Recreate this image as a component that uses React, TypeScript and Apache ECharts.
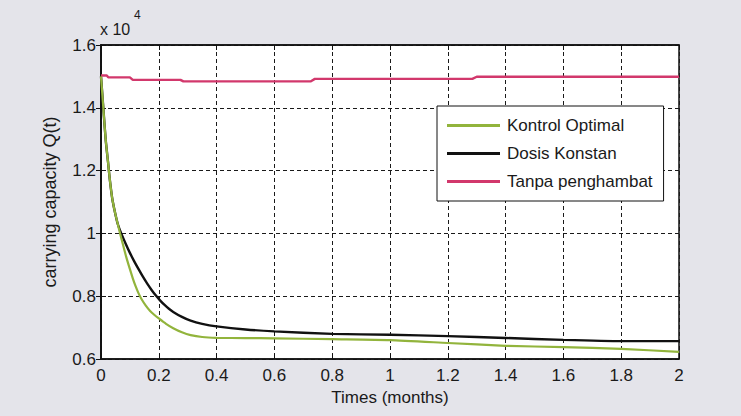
import React, { useEffect, useRef } from "react";
import * as echarts from "echarts";

const xTicks = [0, 0.2, 0.4, 0.6, 0.8, 1, 1.2, 1.4, 1.6, 1.8, 2];
const yTicks = [6000, 8000, 10000, 12000, 14000, 16000];

const kontrolTimes = [0, 0.008, 0.016, 0.024, 0.03, 0.036, 0.04, 0.05, 0.058, 0.066, 0.075, 0.087, 0.1, 0.11, 0.12, 0.13, 0.14, 0.155, 0.17, 0.185, 0.2, 0.225, 0.25, 0.28, 0.31, 0.35, 0.4, 0.5, 0.6, 0.8, 1.0, 1.2, 1.4, 1.6, 1.8, 2.0];
const kontrolValues = [15000, 14000, 13000, 12300, 11750, 11300, 11050, 10600, 10300, 10000, 9680, 9260, 8860, 8570, 8310, 8090, 7910, 7700, 7530, 7400, 7290, 7120, 6980, 6850, 6760, 6700, 6675, 6665, 6660, 6630, 6600, 6510, 6420, 6380, 6320, 6230];

const dosisTimes = [0, 0.008, 0.016, 0.024, 0.03, 0.036, 0.04, 0.05, 0.058, 0.07, 0.085, 0.1, 0.115, 0.13, 0.145, 0.16, 0.175, 0.19, 0.205, 0.22, 0.235, 0.25, 0.28, 0.31, 0.35, 0.4, 0.5, 0.6, 0.8, 1.0, 1.2, 1.4, 1.6, 1.8, 2.0];
const dosisValues = [15000, 14000, 13000, 12300, 11750, 11300, 11050, 10600, 10300, 10000, 9680, 9380, 9110, 8860, 8620, 8400, 8200, 8020, 7860, 7720, 7600, 7500, 7340, 7220, 7120, 7040, 6940, 6880, 6800, 6770, 6730, 6670, 6610, 6570, 6570];

const tanpaTimes = [0, 0.02, 0.025, 0.1, 0.11, 0.275, 0.285, 0.725, 0.74, 1.285, 1.3, 2];
const tanpaValues = [15030, 15030, 14970, 14970, 14890, 14890, 14840, 14840, 14920, 14920, 14990, 14990];

const seriesNames = ["Kontrol Optimal", "Dosis Konstan", "Tanpa penghambat"];
const seriesColors = ["#92b43c", "#111111", "#d2386c"];

const FONT = "'Liberation Sans', Arial, sans-serif";

function pairs(xs: number[], ys: number[]) {
  return xs.map((x, i) => [x, ys[i]]);
}

export default function App() {
  const ref = useRef<HTMLDivElement>(null);
  useEffect(() => {
    if (!ref.current) return;
    const chart = echarts.init(ref.current, undefined, { renderer: "svg" });
    const dashed = { show: true, lineStyle: { color: "#1a1a1a", type: [4, 3] as any, width: 1 } };
    const fmtY = (v: number) => String(Math.round(v / 1000) / 10);
    chart.setOption({
      animation: false,
      backgroundColor: "#e4e4ea",
      textStyle: { fontFamily: FONT },
      grid: {
        left: 101,
        top: 45,
        right: 62,
        bottom: 57,
        show: true,
        backgroundColor: "#ffffff",
        borderColor: "#111",
        borderWidth: 1.5,
      },
      legend: {
        orient: "vertical",
        left: 437,
        top: 106,
        padding: [11, 11, 11, 10],
        itemGap: 11,
        itemWidth: 53,
        itemHeight: 3,
        icon: "rect",
        backgroundColor: "#ffffff",
        borderColor: "#111",
        borderWidth: 1,
        textStyle: { fontSize: 17, color: "#1a1a1a", fontFamily: FONT, padding: [0, 0, 0, 2] },
        data: seriesNames,
      },
      xAxis: [
        {
          type: "value",
          min: 0,
          max: 2,
          interval: 0.2,
          name: "Times (months)",
          nameLocation: "middle",
          nameGap: 30,
          nameTextStyle: { fontSize: 17, color: "#1a1a1a", fontFamily: FONT },
          axisLine: { show: true, lineStyle: { color: "#111", width: 1.5 } },
          axisTick: { show: true, inside: true, length: 5, lineStyle: { color: "#111" } },
          axisLabel: {
            fontSize: 17,
            color: "#1a1a1a",
            margin: 8,
            fontFamily: FONT,
            formatter: (v: number) => String(Math.round(v * 10) / 10),
          },
          splitLine: dashed,
        },
        {
          type: "value",
          position: "top",
          min: 0,
          max: 2,
          interval: 0.2,
          axisLine: { show: true, lineStyle: { color: "#111", width: 1.5 } },
          axisTick: { show: true, inside: true, length: 5, lineStyle: { color: "#111" } },
          axisLabel: { show: false },
          splitLine: { show: false },
        },
      ],
      yAxis: [
        {
          type: "value",
          min: 6000,
          max: 16000,
          interval: 2000,
          name: "carrying capacity Q(t)",
          nameLocation: "middle",
          nameGap: 42,
          nameRotate: 90,
          nameTextStyle: { fontSize: 18, color: "#1a1a1a", fontFamily: FONT },
          axisLine: { show: true, lineStyle: { color: "#111", width: 1.5 } },
          axisTick: { show: true, inside: true, length: 5, lineStyle: { color: "#111" } },
          axisLabel: { fontSize: 17, color: "#1a1a1a", margin: 5, fontFamily: FONT, formatter: fmtY },
          splitLine: dashed,
        },
        {
          type: "value",
          position: "right",
          min: 6000,
          max: 16000,
          interval: 2000,
          axisLine: { show: true, lineStyle: { color: "#111", width: 1.5 } },
          axisTick: { show: true, inside: true, length: 5, lineStyle: { color: "#111" } },
          axisLabel: { show: false },
          splitLine: { show: false },
        },
      ],
      graphic: [
        { type: "text", left: 100, top: 21, style: { text: "x 10", fontSize: 16, fill: "#1a1a1a", fontFamily: FONT } },
        { type: "text", left: 134, top: 9, style: { text: "4", fontSize: 12, fill: "#1a1a1a", fontFamily: FONT } },
      ],
      series: [
        {
          name: seriesNames[0],
          type: "line",
          symbol: "none",
          smooth: 0.2,
          data: pairs(kontrolTimes, kontrolValues),
          lineStyle: { color: seriesColors[0], width: 2.2 },
          itemStyle: { color: seriesColors[0] },
          z: 4,
        },
        {
          name: seriesNames[1],
          type: "line",
          symbol: "none",
          smooth: 0.2,
          data: pairs(dosisTimes, dosisValues),
          lineStyle: { color: seriesColors[1], width: 2.4 },
          itemStyle: { color: seriesColors[1] },
          z: 3,
        },
        {
          name: seriesNames[2],
          type: "line",
          symbol: "none",
          data: pairs(tanpaTimes, tanpaValues),
          lineStyle: { color: seriesColors[2], width: 2.4 },
          itemStyle: { color: seriesColors[2] },
          z: 3,
        },
      ],
    });
    return () => chart.dispose();
  }, []);
  return (
    <div
      ref={ref}
      style={{ position: "absolute", left: 0, top: 0, width: 741, height: 416 }}
    />
  );
}
